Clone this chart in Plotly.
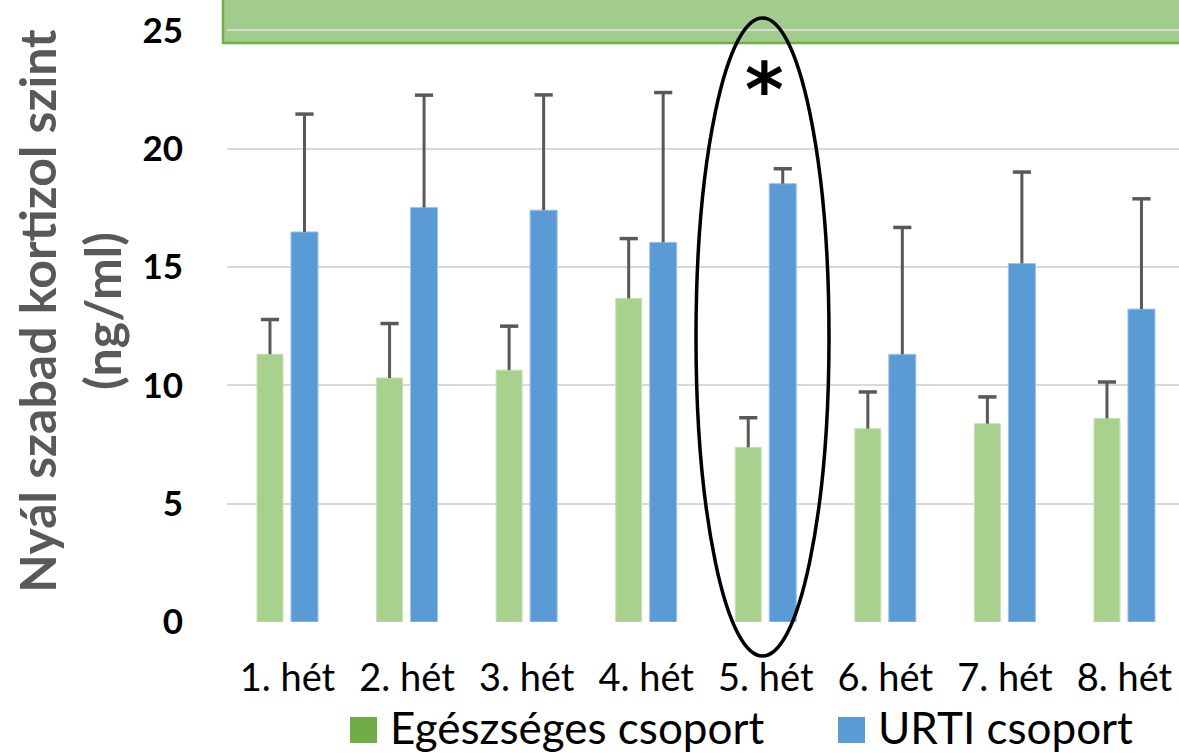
import plotly.graph_objects as go

weeks = ["1. hét", "2. hét", "3. hét", "4. hét", "5. hét", "6. hét", "7. hét", "8. hét"]
healthy = [11.31, 10.31, 10.64, 13.67, 7.38, 8.17, 8.38, 8.60]
healthy_err = [1.47, 2.30, 1.86, 2.53, 1.25, 1.55, 1.13, 1.54]
urti = [16.48, 17.51, 17.40, 16.04, 18.52, 11.31, 15.15, 13.22]
urti_err = [4.98, 4.75, 4.87, 6.33, 0.63, 5.36, 3.86, 4.66]
yticks = [0, 5, 10, 15, 20, 25]
series_names = ["Egészséges csoport", "URTI csoport"]

W, H = 1179, 753
L, R, T, B = 227, 0, 0, 131
PW, PH = W - L - R, H - T - B
YMAX = 26.28

def px_x(p):
    return (p - L) / PW

def px_y(p):
    return (H - B - p) / PH

idx = list(range(len(weeks)))
G_OFF, G_W = -0.255, 0.217
U_OFF, U_W = 0.029, 0.226

fig = go.Figure()
fig.add_trace(go.Bar(
    x=idx, y=healthy, name=series_names[0],
    marker=dict(color="#A9D18E", line=dict(color="#C5E0B4", width=1)),
    width=G_W, offset=G_OFF, showlegend=False,
))
fig.add_trace(go.Bar(
    x=idx, y=urti, name=series_names[1],
    marker=dict(color="#5B9BD5", line=dict(color="#9DC3E6", width=1)),
    width=U_W, offset=U_OFF, showlegend=False,
))

# one-sided error bars (stem + top cap only)
for vals, errs, off, w in [(healthy, healthy_err, G_OFF, G_W), (urti, urti_err, U_OFF, U_W)]:
    xs, ys = [], []
    cx = [i + off + w / 2 for i in idx]
    for x, v, e in zip(cx, vals, errs):
        xs += [x, x, None]
        ys += [v, v + e, None]
    fig.add_trace(go.Scatter(x=xs, y=ys, mode="lines",
                             line=dict(color="#595959", width=3),
                             showlegend=False, hoverinfo="skip"))
    fig.add_trace(go.Scatter(x=cx, y=[v + e for v, e in zip(vals, errs)], mode="markers",
                             marker=dict(symbol="line-ew", size=13,
                                         line=dict(color="#595959", width=3.5)),
                             showlegend=False, hoverinfo="skip"))

shapes = []
# green band at top
shapes.append(dict(type="rect", xref="paper", yref="paper",
                   x0=px_x(223), x1=1.02, y0=24.46 / YMAX, y1=1.05,
                   fillcolor="#A2CC8C", line=dict(color="#70AD47", width=2.5),
                   layer="below"))
# ellipse around week 5
shapes.append(dict(type="circle", xref="paper", yref="paper",
                   x0=px_x(696), x1=px_x(829), y0=px_y(656), y1=px_y(18),
                   line=dict(color="black", width=3.5), layer="above"))
# manual legend squares
shapes.append(dict(type="rect", xref="paper", yref="paper",
                   x0=px_x(350), x1=px_x(377), y0=px_y(743), y1=px_y(717),
                   fillcolor="#70AD47", line=dict(width=0)))
shapes.append(dict(type="rect", xref="paper", yref="paper",
                   x0=px_x(838), x1=px_x(865), y0=px_y(743), y1=px_y(717),
                   fillcolor="#5B9BD5", line=dict(width=0)))

annotations = [
    dict(text="<b>*</b>", xref="paper", yref="paper", x=px_x(764), y=px_y(90),
         xanchor="center", yanchor="middle", showarrow=False,
         font=dict(family="DejaVu Sans", size=74, color="black")),
    dict(text=series_names[0], xref="paper", yref="paper", x=px_x(388), y=px_y(727),
         xanchor="left", yanchor="middle", showarrow=False,
         font=dict(family="Lato", size=44, color="black")),
    dict(text=series_names[1], xref="paper", yref="paper", x=px_x(876), y=px_y(727),
         xanchor="left", yanchor="middle", showarrow=False,
         font=dict(family="Lato", size=44, color="black")),
]

fig.update_layout(
    width=W, height=H,
    margin=dict(l=L, r=R, t=T, b=B, autoexpand=False),
    paper_bgcolor="white", plot_bgcolor="white",
    barmode="overlay",
    shapes=shapes, annotations=annotations,
    showlegend=False,
    xaxis=dict(range=[-0.506, 7.456], tickvals=idx, ticktext=weeks,
               showgrid=False, showline=False, zeroline=False,
               ticks="", tickfont=dict(family="Lato", size=38, color="black"),
               ticklabelstandoff=30),
    yaxis=dict(range=[0, YMAX], tickvals=yticks, showgrid=True,
               gridcolor="#D9D9D9", gridwidth=2, zeroline=False, showline=False,
               ticks="outside", ticklen=36, tickcolor="rgba(0,0,0,0)",
               tickfont=dict(family="Lato", size=35, color="black", weight="bold"),
               title=dict(text="Nyál szabad kortizol szint<br>(ng/ml)",
                          font=dict(family="Lato", size=50, color="#595959", weight="bold"),
                          standoff=4)),
)

fig.write_html("out.html", config={"displayModeBar": False},
               post_script="document.body.style.margin='0px';document.body.style.overflow='hidden';")
